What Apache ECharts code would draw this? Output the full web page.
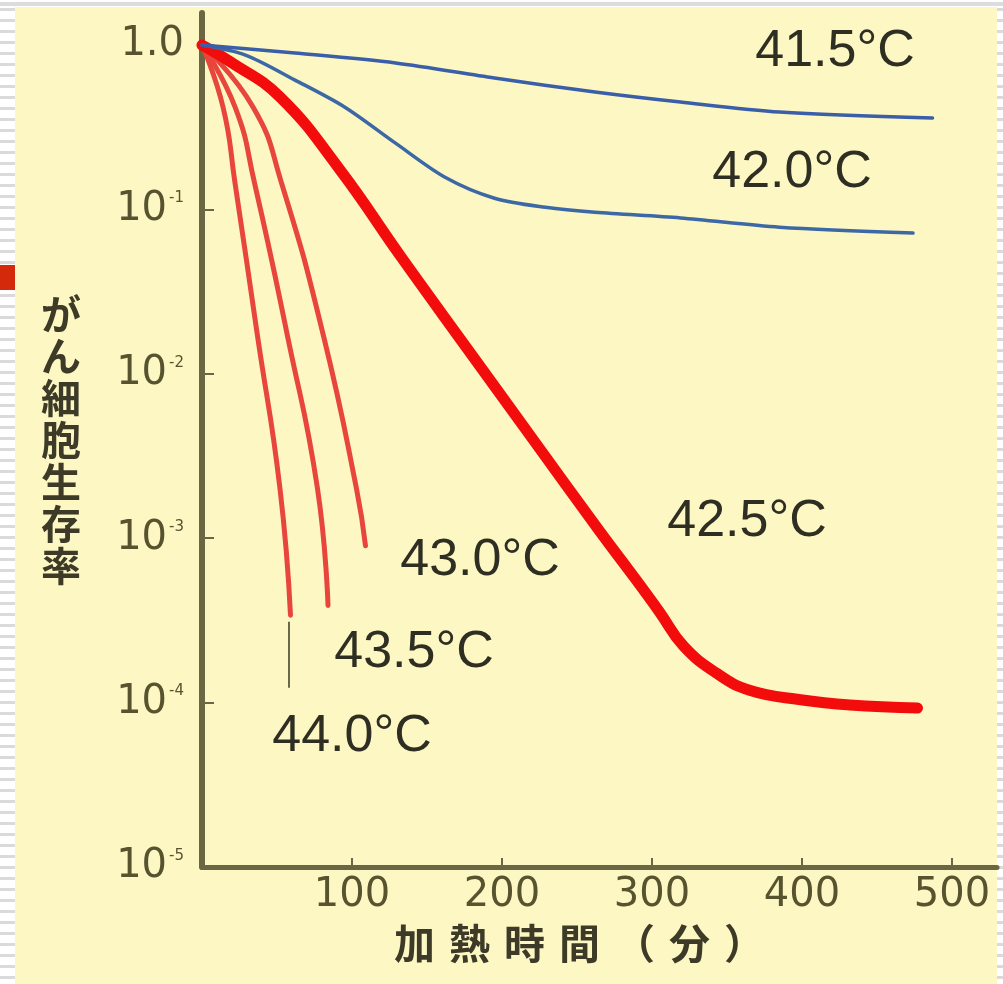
<!DOCTYPE html>
<html><head><meta charset="utf-8">
<script src="https://cdn.jsdelivr.net/npm/echarts@6/dist/echarts.min.js"></script>
<style>
html,body{margin:0;padding:0;width:1003px;height:984px;overflow:hidden;background:#fff;}
#stripes{position:absolute;left:0;top:0;width:1003px;height:984px;background:repeating-linear-gradient(to bottom,#fff 0px,#fff 8px,#dadada 8px,#dadada 11px);}
#topline{position:absolute;left:0;top:2px;width:1003px;height:4px;background:#dcdcdc;}
#panel{position:absolute;left:15px;top:7px;width:982px;height:977px;background:#fcf7c3;}
#mark{position:absolute;left:0;top:265px;width:15px;height:25px;background:#d4290b;}
#chart{position:absolute;left:0;top:0;width:1003px;height:984px;}
</style></head>
<body>
<div id="stripes"></div><div id="topline"></div><div id="panel"></div><div id="mark"></div>
<div id="chart"></div>
<script>
// ---- data ----
const xTickValues = [100, 200, 300, 400, 500];
const yTickValues = [1e-5, 1e-4, 1e-3, 1e-2, 1e-1, 1];
const xAxisTitle = '加熱時間（分）';
const yAxisTitle = 'がん細胞生存率';

const t415 = [0, 62, 129, 195, 262, 319, 385, 487];
const s415 = [1, 0.894, 0.778, 0.63, 0.518, 0.45, 0.391, 0.36];

const t420 = [0, 29, 62, 95, 129, 162, 195, 229, 262, 319, 385, 474];
const s420 = [1, 0.869, 0.612, 0.42, 0.253, 0.157, 0.117, 0.103, 0.096, 0.0887, 0.078, 0.0718];

const t425 = [0, 19, 52, 92, 132, 177, 221, 265, 287, 305, 321, 343, 365, 399, 432, 477];
const s425 = [1, 0.79, 0.483, 0.174, 0.0525, 0.01416, 0.00395, 0.001106, 0.000597, 0.000356, 0.000221, 0.000151, 0.000119, 0.000104, 0.0000966, 0.0000927];

const t430 = [0, 34, 53, 81, 103, 109];
const s430 = [1, 0.42, 0.145, 0.017, 0.002, 0.0009];

const t435 = [0, 22, 35, 57, 77, 84];
const s435 = [1, 0.42, 0.145, 0.017, 0.002, 0.00039];

const t440 = [0, 14, 22, 37, 52, 59];
const s440 = [1, 0.42, 0.145, 0.017, 0.002, 0.00034];

// leader line under the 44.0°C curve
const tLead = [58, 58];
const sLead = [0.00031, 0.000123];

const seriesLabels = ['41.5°C', '42.0°C', '42.5°C', '43.0°C', '43.5°C', '44.0°C'];

// ---- build ----
const pairs = (t, s) => t.map((v, i) => [v, s[i]]);
const axisColor = '#6b6744';
const labelColor = '#57532f';

function lineSeries(name, t, s, color, width, smooth) {
  return {
    name, type: 'line', data: pairs(t, s), smooth: smooth,
    showSymbol: false, symbol: 'none', silent: true,
    lineStyle: { color, width, cap: 'round', join: 'round' }
  };
}

const chart = echarts.init(document.getElementById('chart'), null, { renderer: 'canvas' });

const textPos = [[835, 52], [792, 173], [747, 522], [480, 561], [414, 653], [352, 737]];
const xNameRich = xAxisTitle.split('').map(c => '{c|' + c + '}').join('');

chart.setOption({
  backgroundColor: 'transparent',
  animation: false,
  grid: { left: 202, right: 6, top: 13, bottom: 117 },
  xAxis: {
    type: 'value', min: 0, max: 530, interval: 100,
    name: xNameRich, nameLocation: 'middle', nameGap: 56,
    nameTextStyle: {
      padding: [0, 40, 0, 0],
      rich: { c: { fontFamily: 'Noto Sans CJK JP', fontSize: 41, fontWeight: 'bold', color: '#3d3b28', padding: [0, 7, 0, 7] } }
    },
    axisLine: { lineStyle: { color: axisColor, width: 5 } },
    axisTick: { inside: true, length: 9, lineStyle: { color: axisColor, width: 2 }, customValues: xTickValues },
    axisLabel: { customValues: xTickValues, fontFamily: 'DejaVu Sans', fontSize: 40, color: labelColor, margin: 9 },
    splitLine: { show: false }
  },
  yAxis: {
    type: 'log', logBase: 10, min: 1e-5, max: 1.566,
    name: yAxisTitle.split('').join('\n'), nameLocation: 'middle', nameRotate: 0, nameGap: 121,
    nameTextStyle: { fontFamily: 'Noto Sans CJK JP', fontSize: 40, lineHeight: 42, fontWeight: 'bold', color: '#3d3b28' },
    axisLine: { lineStyle: { color: axisColor, width: 6 } },
    axisTick: { inside: true, length: 12, lineStyle: { color: axisColor, width: 2 }, customValues: yTickValues },
    axisLabel: {
      margin: 18, color: labelColor, customValues: yTickValues,
      formatter: function (v) {
        const lg = Math.log10(v), e = Math.round(lg);
        if (Math.abs(lg - e) > 1e-6) return '';
        if (e === 0) return '{b|1.0}';
        return '{b|10}{s|-' + (-e) + '}';
      },
      rich: {
        b: { fontFamily: 'DejaVu Sans', fontSize: 40, color: labelColor },
        s: { fontFamily: 'DejaVu Sans', fontSize: 15, color: labelColor, padding: [0, 0, 22, 2] }
      }
    },
    splitLine: { show: false }
  },
  series: [
    lineSeries('44.0', t440, s440, '#e8453c', 5, 0.5),
    lineSeries('43.5', t435, s435, '#e8453c', 5, 0.5),
    lineSeries('43.0', t430, s430, '#e8453c', 5, 0.5),
    lineSeries('42.5', t425, s425, '#f20c0c', 11, 0.45),
    lineSeries('42.0', t420, s420, '#3d68a6', 3.5, 0.3),
    lineSeries('41.5', t415, s415, '#3a5ea8', 3.5, 0.3),
    { type: 'line', data: pairs(tLead, sLead), showSymbol: false, symbol: 'none', silent: true,
      lineStyle: { color: '#6b6848', width: 2 } }
  ],
  graphic: seriesLabels.map((txt, i) => ({
    type: 'text', x: textPos[i][0], y: textPos[i][1], silent: true,
    style: { text: txt, fontFamily: 'Liberation Sans', fontSize: 52, fill: '#2f2e22',
      textAlign: 'center', textVerticalAlign: 'middle' }
  }))
});
</script>
</body></html>
